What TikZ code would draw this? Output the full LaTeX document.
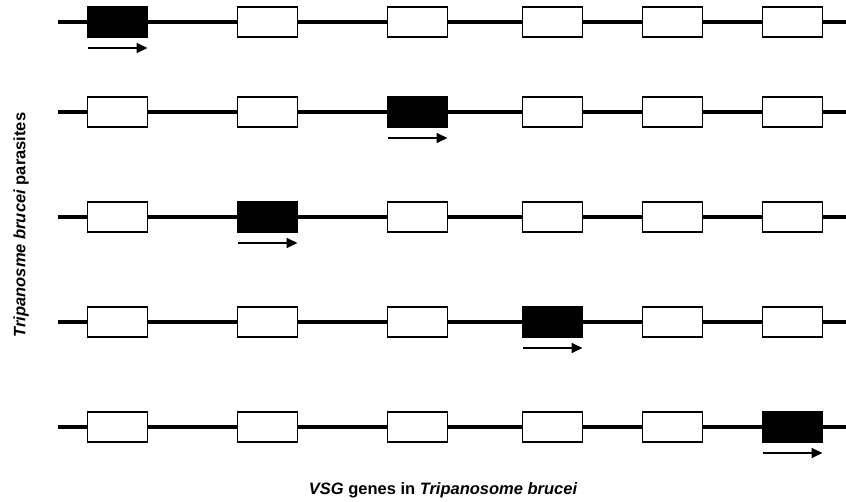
\documentclass[tikz,border=0pt]{standalone}
\usepackage{fontspec}
\setmainfont{Liberation Sans}
\usetikzlibrary{arrows.meta}
\begin{document}
\begin{tikzpicture}[x=1pt,y=-1pt,
  gene/.style={draw=black,line width=1.7pt,fill=white,minimum width=60pt,minimum height=30pt,inner sep=0pt,outer sep=0pt},
  active/.style={gene,fill=black},
  chrom/.style={line width=3.2pt},
  dirarrow/.style={line width=1.8pt,-{Triangle[length=11pt,width=10pt]}},
  lbl/.style={font=\fontsize{16.5}{19}\selectfont\bfseries}]
\useasboundingbox (0,0) rectangle (846,502);
\foreach \r/\y/\a in {1/22/1,2/112/3,3/217/2,4/322/4,5/427/6}{
  \coordinate (L\r) at (58,\y);
  \coordinate (R\r) at (846,\y);
  \draw[chrom] (L\r) -- (R\r);
  \foreach \c/\x in {1/117.5,2/267.5,3/417.5,4/552.5,5/672.5,6/792.5}{
    \ifnum\c=\a
      \node[active] (g\r\c) at (\x,\y) {};
      \coordinate (s\r) at ([yshift=-11pt]g\r\c.south west);
      \coordinate (e\r) at ([yshift=-11pt]g\r\c.south east);
      \draw[dirarrow] (s\r) -- (e\r);
    \else
      \node[gene] (g\r\c) at (\x,\y) {};
    \fi
  }
}
\node[lbl,rotate=90] (ylab) at (21,225) {\itshape Tripanosme brucei\/\upshape{} parasites};
\node[lbl] (xlab) at (443,490) {\itshape VSG\/\upshape{} genes in \itshape Tripanosome brucei};
\end{tikzpicture}
\end{document}
